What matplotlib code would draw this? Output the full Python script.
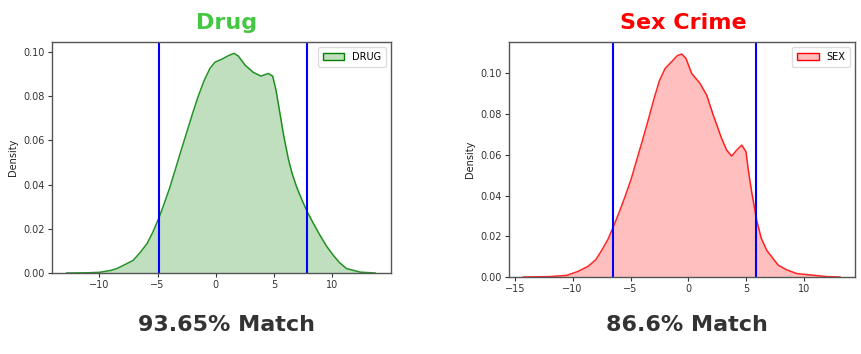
import matplotlib
matplotlib.use('Agg')
import matplotlib.pyplot as plt
from matplotlib.patches import Patch

# Drug density curve
drug_x = [-12.8, -11.0, -10.0, -9.0, -8.5, -7.8, -7.1, -6.5, -5.9, -5.4, -4.85, -4.4,
          -3.93, -3.0, -2.5, -2.0, -1.5, -1.0, -0.5, -0.07, 0.5, 1.07, 1.56, 1.93,
          2.51, 3.22, 3.88, 4.51, 4.88, 5.17, 5.51, 5.85, 6.22, 6.55, 6.94, 7.4,
          7.86, 8.4, 8.94, 9.5, 10.09, 10.6, 11.23, 12.4, 13.67]
drug_y = [0.0, 0.0001, 0.0003, 0.0012, 0.002, 0.0038, 0.0057, 0.0092, 0.0133, 0.0185,
          0.0253, 0.0318, 0.0389, 0.0550, 0.0635, 0.0720, 0.0800, 0.0870, 0.0925,
          0.0953, 0.0966, 0.0982, 0.0993, 0.0981, 0.0940, 0.0907, 0.0890, 0.0902,
          0.0890, 0.0827, 0.0721, 0.0615, 0.0518, 0.0450, 0.0389, 0.0330, 0.0276,
          0.0222, 0.0171, 0.0122, 0.0080, 0.0048, 0.0020, 0.0004, 0.0]
drug_lines = [-4.85, 7.86]

# Sex crime density curve
sex_x = [-14.27, -11.96, -10.52, -9.51, -8.65, -8.0, -7.49, -6.95, -6.49, -5.98,
         -5.48, -4.95, -4.47, -4.0, -3.5, -3.0, -2.5, -2.0, -1.44, -0.96, -0.58,
         -0.21, 0.28, 0.65, 1.0, 1.58, 2.15, 2.87, 3.31, 3.74, 4.17, 4.61, 4.98,
         5.18, 5.47, 5.90, 6.3, 6.77, 7.77, 8.5, 9.36, 11.95, 13.1]
sex_y = [0.0, 0.0002, 0.0008, 0.0028, 0.0053, 0.0085, 0.0131, 0.0185, 0.0246, 0.0318,
         0.0394, 0.0480, 0.0574, 0.0665, 0.0765, 0.0870, 0.0965, 0.1025, 0.1058,
         0.1087, 0.1095, 0.1074, 0.1000, 0.0975, 0.0951, 0.0894, 0.0795, 0.0681,
         0.0623, 0.0594, 0.0623, 0.0648, 0.0615, 0.0525, 0.0418, 0.0279, 0.0190,
         0.0131, 0.0058, 0.0035, 0.0017, 0.0002, 0.0]
sex_lines = [-6.49, 5.84]

titles = ['Drug', 'Sex Crime']
title_colors = ['#44c844', '#ff0000']
labels = ['DRUG', 'SEX']
scores = ['93.65% Match', '86.6% Match']

fig = plt.figure(figsize=(8.62, 3.54), dpi=100)
fig.patch.set_facecolor('white')

panels = [
    dict(x=drug_x, y=drug_y, vl=drug_lines, color='green', fill=(0.75, 0.875, 0.75),
         rect=[0.0603, 0.2288, 0.3933, 0.6525], xlim=(-14.06, 15.04), ylim=(0, 0.1044),
         xticks=[-10, -5, 0, 5, 10], tx=227),
    dict(x=sex_x, y=sex_y, vl=sex_lines, color='red', fill=(1.0, 0.75, 0.75),
         rect=[0.5905, 0.2175, 0.4014, 0.6638], xlim=(-15.5, 14.4), ylim=(0, 0.1154),
         xticks=[-15, -10, -5, 0, 5, 10], tx=683),
]
yticks = [0, 0.02, 0.04, 0.06, 0.08, 0.10]

for i, p in enumerate(panels):
    ax = fig.add_axes(p['rect'])
    ax.fill_between(p['x'], p['y'], 0, color=p['fill'], lw=0)
    ax.plot(p['x'], p['y'], color=p['color'], lw=1.1, alpha=0.85,
            solid_joinstyle='round')
    for v in p['vl']:
        ax.axvline(v, color='blue', lw=1.5)
    ax.set_xlim(p['xlim'])
    ax.set_ylim(p['ylim'])
    ax.set_xticks(p['xticks'])
    ax.set_xticklabels([str(t).replace('-', '\u2212') for t in p['xticks']])
    ax.set_yticks(yticks)
    ax.set_yticklabels(['%.2f' % t for t in yticks])
    ax.tick_params(labelsize=7, length=3, width=0.8, colors='#333333', pad=2)
    ax.set_ylabel('Density', fontsize=7, color='#222222', labelpad=4)
    for s in ax.spines.values():
        s.set_color('#555555')
        s.set_linewidth(1.0)
    handle = Patch(facecolor=p['fill'], edgecolor=p['color'], lw=1.0, label=labels[i])
    ax.legend(handles=[handle], loc='upper right', fontsize=7, handlelength=2.2,
              borderpad=0.5, framealpha=1, edgecolor='#dddddd')

    fig.text(p['tx'] / 862, 1 - 23 / 354, titles[i], color=title_colors[i],
             fontsize=16, fontweight='heavy', ha='center', va='center')

fig.text(227 / 862, 1 - 325 / 354, scores[0], fontsize=16, fontweight='bold',
         color='#333333', ha='center', va='center')
fig.text(687 / 862, 1 - 325 / 354, scores[1], fontsize=16, fontweight='bold',
         color='#333333', ha='center', va='center')

fig.savefig('out.png', dpi=100)
